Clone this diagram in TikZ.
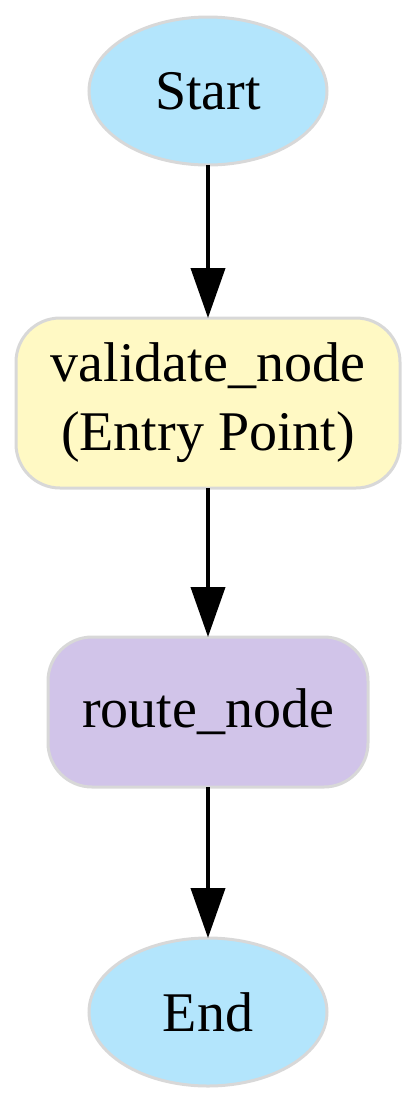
\documentclass[tikz,border=0pt]{standalone}
\usepackage{fontspec}
\setmainfont{Liberation Serif}
\usetikzlibrary{shapes.geometric,arrows.meta}
\definecolor{bluefill}{HTML}{B3E5FC}
\definecolor{yellowfill}{HTML}{FFF9C4}
\definecolor{purplefill}{HTML}{D1C4E9}
\definecolor{bordergray}{HTML}{D8D8D8}
\begin{document}
\begin{tikzpicture}[x=0.5pt,y=-0.5pt,
  every node/.style={font=\fontsize{28}{34.5}\selectfont, inner sep=0pt, outer sep=0pt},
  oval/.style={ellipse, draw=bordergray, line width=1.5pt, fill=bluefill, minimum width=119pt, minimum height=74pt},
  rbox/.style={rectangle, rounded corners=22pt, draw=bordergray, line width=1.5pt, align=center},
  conn/.style={line width=2pt, -{Triangle[length=25pt,width=17pt]}}
]
\useasboundingbox (0,0) rectangle (416,1104);
\node[oval] (start) at (208,91) {Start};
\node[rbox, fill=yellowfill, minimum width=192pt, minimum height=85pt] (validate) at (208,403) {validate\_node\\(Entry Point)};
\node[rbox, fill=purplefill, minimum width=160pt, minimum height=75pt] (route) at (208,712) {route\_node};
\node[oval] (end) at (208,1012) {End};
\draw[conn] (start) -- (validate);
\draw[conn] (validate) -- (route);
\draw[conn] (route) -- (end);
\end{tikzpicture}
\end{document}
